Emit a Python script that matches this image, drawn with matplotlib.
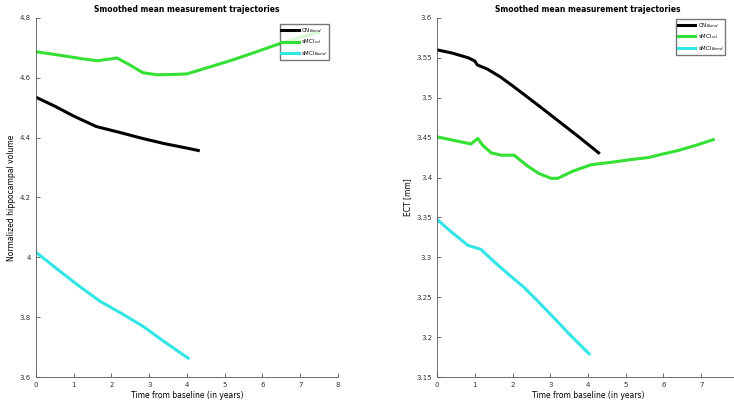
import numpy as np
import matplotlib.pyplot as plt

# values
# left panel: normalized hippocampal volume
hv_cn_t = [0, 0.5, 1.0, 1.6, 2.2, 2.8, 3.4, 4.0, 4.3]
hv_cn_v = [4.535, 4.505, 4.472, 4.437, 4.418, 4.398, 4.380, 4.365, 4.357]
hv_sc_t = [0, 0.6, 1.2, 1.62, 2.15, 2.5, 2.83, 3.2, 3.6, 4.0, 4.6, 5.22, 5.8, 6.41, 7.0, 7.5]
hv_sc_v = [4.687, 4.676, 4.664, 4.657, 4.666, 4.642, 4.617, 4.61, 4.611, 4.613, 4.636, 4.660, 4.685, 4.712, 4.735, 4.752]
hv_bs_t = [0, 0.55, 1.1, 1.7, 2.3, 2.83, 3.4, 4.03]
hv_bs_v = [4.017, 3.962, 3.908, 3.853, 3.81, 3.77, 3.718, 3.663]

# right panel: ECT [mm]
ect_cn_t = [0, 0.4, 0.83, 1.0, 1.07, 1.33, 1.68, 2.0, 2.39, 2.75, 3.13, 3.7, 4.28]
ect_cn_v = [3.56, 3.556, 3.55, 3.546, 3.541, 3.536, 3.526, 3.515, 3.501, 3.488, 3.474, 3.453, 3.431]
ect_sc_t = [0, 0.4, 0.9, 1.08, 1.2, 1.43, 1.7, 2.04, 2.41, 2.7, 3.02, 3.2, 3.6, 4.08, 4.6, 5.14, 5.6, 5.94, 6.4, 6.9, 7.32]
ect_sc_v = [3.451, 3.447, 3.442, 3.449, 3.441, 3.431, 3.428, 3.428, 3.414, 3.405, 3.399, 3.399, 3.408, 3.416, 3.419, 3.4225, 3.425, 3.429, 3.434, 3.441, 3.4475]
ect_bs_t = [0, 0.4, 0.82, 1.16, 1.5, 1.96, 2.3, 2.65, 3.02, 3.5, 4.03]
ect_bs_v = [3.3475, 3.331, 3.315, 3.31, 3.295, 3.276, 3.2625, 3.246, 3.228, 3.204, 3.179]

names = ['CN$_{Bsmd}$', 'sMCI$_{scl}$', 'sMCI$_{Bsmd}$']
colors = ['black', '#33e033', '#33e6e6']

fig = plt.figure(figsize=(7.34, 4.03), dpi=100)
ax1 = fig.add_axes([0.049, 0.0645, 0.4114, 0.891])
ax2 = fig.add_axes([0.5954, 0.0645, 0.4114, 0.891])

panels = [
    (ax1, [(hv_cn_t, hv_cn_v), (hv_sc_t, hv_sc_v), (hv_bs_t, hv_bs_v)],
     (3.6, 4.8), np.arange(3.6, 4.81, 0.2), 'Normalized hippocampal volume', (0.381, 0.940)),
    (ax2, [(ect_cn_t, ect_cn_v), (ect_sc_t, ect_sc_v), (ect_bs_t, ect_bs_v)],
     (3.15, 3.6), np.arange(3.15, 3.601, 0.05), 'ECT [mm]', (0.921, 0.953)),
]

for ax, series, ylim, yticks, ylab, leg_pos in panels:
    for (t, v), nm, c in zip(series, names, colors):
        ax.plot(t, v, color=c, linewidth=2.2, label=nm)
    ax.set_xlim(0, 8)
    ax.set_ylim(*ylim)
    ax.set_xticks(range(0, 9))
    ax.set_yticks(yticks)
    ax.set_yticklabels(['%g' % round(y, 2) for y in yticks])
    for s in ['top', 'right']:
        ax.spines[s].set_visible(False)
    for s in ['left', 'bottom']:
        ax.spines[s].set_color('#555555')
        ax.spines[s].set_linewidth(0.6)
    ax.tick_params(direction='in', length=3, width=0.5, labelsize=5, colors='#333333')
    ax.set_title('Smoothed mean measurement trajectories', fontsize=5.5, fontweight='bold', pad=4)
    ax.set_xlabel('Time from baseline (in years)', fontsize=5.5, labelpad=2)
    ax.set_ylabel(ylab, fontsize=5.5, labelpad=3)
    ax.legend(loc='upper left', bbox_to_anchor=leg_pos, bbox_transform=fig.transFigure,
              fontsize=4, frameon=True, fancybox=False, edgecolor='#555555',
              handlelength=3.2, handletextpad=0.4, borderpad=0.3, labelspacing=0.5,
              borderaxespad=0)

# the right panel runs past the figure edge, so its last label is not shown
ax2.set_xticklabels([str(i) for i in range(8)] + [''])

plt.savefig('out.png', dpi=100)
